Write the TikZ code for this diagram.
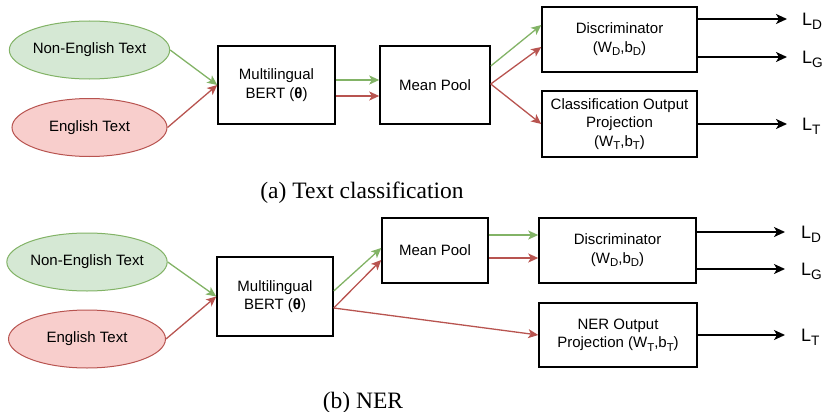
\documentclass[tikz,border=0pt]{standalone}
\usepackage{fontspec}
\usepackage{graphicx}
\setmainfont{Liberation Sans}
\newfontfamily\capfont{Liberation Serif}
\usetikzlibrary{shapes.geometric,arrows.meta}
\definecolor{gfill}{HTML}{D5E8D4}
\definecolor{gline}{HTML}{82B366}
\definecolor{rfill}{HTML}{F8CECC}
\definecolor{rline}{HTML}{B85450}
\newcommand{\boxfont}{\fontsize{15}{18.5}\selectfont}
\newcommand{\lossfont}{\fontsize{18}{20}\selectfont}
\newcommand{\sbs}[1]{\raisebox{-0.45ex}{\scalebox{0.76}{#1}}}
\tikzset{
  ell/.style={ellipse, inner sep=0pt, minimum width=155pt, minimum height=58pt, line width=1pt, font=\boxfont},
  gell/.style={ell, draw=gline, fill=gfill},
  rell/.style={ell, draw=rline, fill=rfill},
  box/.style={draw, line width=1.5pt, inner sep=0pt, align=center, font=\boxfont},
  garr/.style={draw=gline, line width=1.3pt, -{Stealth[length=10pt,width=9pt,inset=2.5pt]}},
  rarr/.style={draw=rline, line width=1.3pt, -{Stealth[length=10pt,width=9pt,inset=2.5pt]}},
  barr/.style={draw=black, line width=1.6pt, -{Stealth[length=11pt,width=10pt,inset=3pt]}},
  loss/.style={anchor=base west, inner sep=0pt, font=\lossfont},
  capt/.style={anchor=base, inner sep=0pt, font=\capfont\fontsize{23.5}{26}\selectfont}
}
\begin{document}
\begin{tikzpicture}[x=1pt, y=-1pt]
\useasboundingbox (0,0) rectangle (827,412);

% ---------------- (a) ----------------
\node[gell] (ne1) at (89.5,50) {Non-English Text};
\node[rell] (en1) at (89.5,127.5) {English Text};
\node[box, minimum width=117pt, minimum height=78pt] (bert1) at (276.5,85) {Multilingual\\BERT (\textbf{θ})};
\node[box, minimum width=110pt, minimum height=78pt] (mp1) at (435,85) {Mean Pool};
\node[box, minimum width=155pt, minimum height=65pt] (disc1) at (619.5,39.5) {Discriminator\\(W\sbs{D},b\sbs{D})};
\node[box, minimum width=155pt, minimum height=66pt] (cls1) at (619.5,124) {Classification Output\\Projection\\(W\sbs{T},b\sbs{T})};

\draw[garr] (ne1.east) -- (bert1.west);
\draw[rarr] (en1.east) -- (bert1.west);
\draw[garr] (bert1.east |- 0,80) -- (mp1.west |- 0,80);
\draw[rarr] (bert1.east |- 0,96) -- (mp1.west |- 0,96);
\draw[garr] (mp1.east |- 0,66) -- (disc1.west |- 0,25);
\draw[rarr] (mp1.east |- 0,84) -- (disc1.west |- 0,47);
\draw[rarr] (mp1.east |- 0,84) -- (cls1.west);

\coordinate (ld1) at (787,19);
\coordinate (lg1) at (787,57);
\coordinate (lt1) at (787,124);
\draw[barr] (disc1.east |- ld1) -- (ld1);
\draw[barr] (disc1.east |- lg1) -- (lg1);
\draw[barr] (cls1.east) -- (lt1);
\node[loss] (LD1) at (802,25.5) {L\sbs{D}};
\node[loss] (LG1) at (802,63.5) {L\sbs{G}};
\node[loss] (LT1) at (802,130.5) {L\sbs{T}};

\node[capt] (cap1) at (362,198) {(a) Text classification};

% ---------------- (b) ----------------
\node[gell, minimum width=157pt] (ne2) at (87,262) {Non-English Text};
\node[rell, minimum width=157pt] (en2) at (87,339) {English Text};
\node[box, minimum width=116pt, minimum height=79pt] (bert2) at (275,296.5) {Multilingual\\BERT (\textbf{θ})};
\node[box, minimum width=106pt, minimum height=65pt] (mp2) at (435,250.5) {Mean Pool};
\node[box, minimum width=157pt, minimum height=65pt] (disc2) at (617.5,250.5) {Discriminator\\(W\sbs{D},b\sbs{D})};
\node[box, minimum width=158pt, minimum height=64pt] (ner2) at (618,335) {NER Output\\Projection (W\sbs{T},b\sbs{T})};

\draw[garr] (ne2.east) -- (bert2.west);
\draw[rarr] (en2.east) -- (bert2.west);
\draw[garr] (bert2.east |- 0,291) -- (mp2.west |- 0,248);
\draw[rarr] (bert2.east |- 0,308) -- (mp2.west |- 0,260);
\draw[rarr] (bert2.east |- 0,308) -- (ner2.west);
\draw[garr] (mp2.east |- 0,235) -- (disc2.west |- 0,235);
\draw[rarr] (mp2.east |- 0,258) -- (disc2.west |- 0,258);

\coordinate (ld2) at (785,232);
\coordinate (lg2) at (785,269);
\coordinate (lt2) at (785,335);
\draw[barr] (disc2.east |- ld2) -- (ld2);
\draw[barr] (disc2.east |- lg2) -- (lg2);
\draw[barr] (ner2.east) -- (lt2);
\node[loss] (LD2) at (801,238.5) {L\sbs{D}};
\node[loss] (LG2) at (801,275.5) {L\sbs{G}};
\node[loss] (LT2) at (801,341.5) {L\sbs{T}};

\node[capt] (cap2) at (363,408) {(b) NER};
\end{tikzpicture}
\end{document}
